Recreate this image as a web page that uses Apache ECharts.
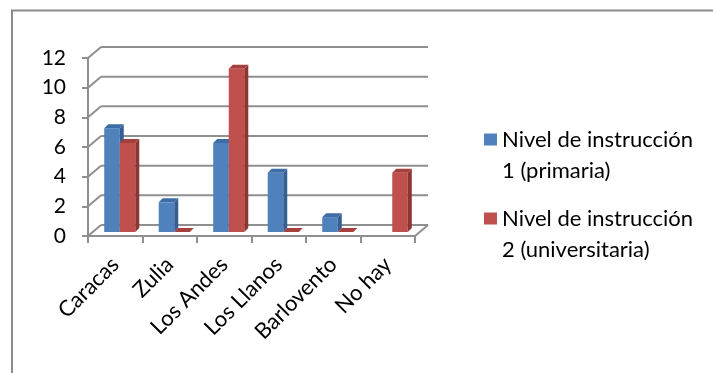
<!DOCTYPE html>
<html>
<head>
<meta charset="utf-8">
<title>Nivel de instrucción por región</title>
<script src="https://cdn.jsdelivr.net/npm/echarts@6/dist/echarts.min.js"></script>
<style>
  html, body { margin: 0; padding: 0; background: #fff; }
  #chart { width: 713px; height: 373px; }
</style>
</head>
<body>
<div id="chart"></div>
<script>
// Regions and counts per education level
const categories = ['Caracas', 'Zulia', 'Los Andes', 'Los Llanos', 'Barlovento', 'No hay'];
const nivel1 = [7, 2, 6, 4, 1, null];
const nivel2 = [6, 0, 11, 0, 0, 4];
const seriesNames = ['Nivel de instrucción\n1 (primaria)', 'Nivel de instrucción\n2 (universitaria)'];
const yTicks = [0, 2, 4, 6, 8, 10, 12];

// Pseudo-3D look: wall depth and bar depth, in pixels
const WALL_DX = 13, WALL_DY = -11;
const BAR_OFF_X = 4.5, BAR_OFF_Y = -4;
const BAR_SIDE = 4;
const GRID_COLOR = '#8f8f8f';
const FONT = 'Lato';

const palette = [
  { front: '#4f81bd', side: '#355f94', top: '#3e6ca5' },
  { front: '#c0504d', side: '#8e3431', top: '#a5403d' }
];

function wallItem(params, api) {
  const cs = params.coordSys;
  const v = api.value(1);
  const y = api.coord([0, v])[1];
  const x0 = cs.x, x1 = cs.x + cs.width;
  const style = { stroke: GRID_COLOR, lineWidth: 2, fill: null };
  const children = [
    { type: 'line', shape: { x1: x0 + WALL_DX, y1: y + WALL_DY, x2: x1 + WALL_DX, y2: y + WALL_DY }, style },
    { type: 'line', shape: { x1: x0, y1: y, x2: x0 + WALL_DX, y2: y + WALL_DY }, style }
  ];
  if (v === 0) {
    children.push({ type: 'line', shape: { x1: x1, y1: y, x2: x1 + WALL_DX, y2: y + WALL_DY }, style });
  }
  return { type: 'group', children };
}

function barRenderer(idx) {
  const col = palette[idx];
  return function (params, api) {
    const v = api.value(1);
    if (v == null || isNaN(v)) return;
    const center = api.coord([api.value(0), 0]);
    const band = api.size([1, 0])[0];
    const w = band * 0.285;
    const baseY = center[1] + BAR_OFF_Y;
    const topY = api.coord([api.value(0), v])[1] + BAR_OFF_Y;
    const x0 = center[0] - w + idx * w + BAR_OFF_X;
    const x1 = x0 + w;
    const d = BAR_SIDE;
    const children = [];
    if (topY < baseY) {
      children.push({ type: 'rect', shape: { x: x0, y: topY, width: w, height: baseY - topY }, style: { fill: col.front } });
      children.push({ type: 'polygon', shape: { points: [[x1, topY], [x1 + d, topY - d], [x1 + d, baseY - d], [x1, baseY]] }, style: { fill: col.side } });
    }
    children.push({ type: 'polygon', shape: { points: [[x0, topY], [x0 + d, topY - d], [x1 + d, topY - d], [x1, topY]] }, style: { fill: col.top } });
    return { type: 'group', children };
  };
}

const chart = echarts.init(document.getElementById('chart'), null, { renderer: 'canvas' });

// Leading blank line keeps the marker level with the first text line
const legendText = { fontFamily: FONT, fontSize: 22, color: '#000', lineHeight: 31 };
const legendFormatter = name => '\n' + name;

chart.setOption({
  animation: false,
  backgroundColor: '#fff',
  textStyle: { fontFamily: FONT },
  graphic: [{
    type: 'polyline',
    shape: { points: [[12, 373], [12, 10.5], [713, 10.5]] },
    style: { stroke: '#8a8a8a', lineWidth: 2, fill: null },
    silent: true
  }],
  legend: [
    { data: [seriesNames[0]], left: 484, top: 93, padding: 0, itemWidth: 13, itemHeight: 12, icon: 'rect', textStyle: legendText, formatter: legendFormatter, selectedMode: false },
    { data: [seriesNames[1]], left: 484, top: 172, padding: 0, itemWidth: 13, itemHeight: 12, icon: 'rect', textStyle: legendText, formatter: legendFormatter, selectedMode: false }
  ],
  grid: { left: 88, right: 298, top: 58, bottom: 137, containLabel: false },
  xAxis: {
    type: 'category',
    data: categories,
    axisLine: { show: true, lineStyle: { color: GRID_COLOR, width: 2 } },
    axisTick: { show: true, interval: 0, length: 7, lineStyle: { color: GRID_COLOR, width: 2 } },
    axisLabel: { interval: 0, rotate: 45, margin: 25, fontFamily: FONT, fontSize: 22, color: '#000' },
    splitLine: { show: false }
  },
  yAxis: {
    type: 'value',
    min: yTicks[0],
    max: yTicks[yTicks.length - 1],
    interval: yTicks[1] - yTicks[0],
    axisLine: { show: true, lineStyle: { color: GRID_COLOR, width: 2 } },
    axisTick: { show: true, length: 6, lineStyle: { color: GRID_COLOR, width: 2 } },
    axisLabel: { margin: 22, fontFamily: FONT, fontSize: 21, color: '#000' },
    splitLine: { show: false }
  },
  series: [
    {
      type: 'custom',
      name: 'walls',
      silent: true,
      clip: false,
      z: 1,
      renderItem: wallItem,
      encode: { x: 0, y: 1 },
      data: yTicks.map(v => [0, v])
    },
    {
      type: 'custom',
      name: seriesNames[0],
      clip: false,
      z: 3,
      itemStyle: { color: palette[0].front },
      renderItem: barRenderer(0),
      encode: { x: 0, y: 1 },
      data: nivel1.map((v, i) => [i, v])
    },
    {
      type: 'custom',
      name: seriesNames[1],
      clip: false,
      z: 4,
      itemStyle: { color: palette[1].front },
      renderItem: barRenderer(1),
      encode: { x: 0, y: 1 },
      data: nivel2.map((v, i) => [i, v])
    }
  ]
});
</script>
</body>
</html>
